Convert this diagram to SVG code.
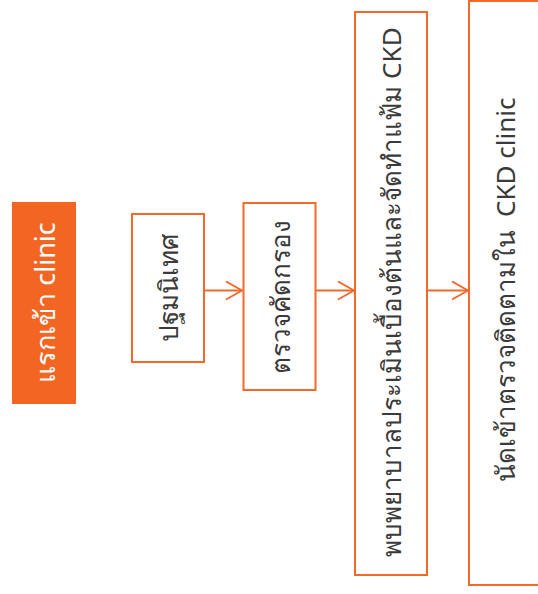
<svg xmlns="http://www.w3.org/2000/svg" width="538" height="594" viewBox="0 0 538 594">
  <style>
    .box { fill: #ffffff; stroke: #F26A2A; stroke-width: 2; }
    .start { fill: #F26522; stroke: none; }
    .lbl { font-family: "Noto Sans", "Tahoma", "DejaVu Sans", sans-serif; font-size: 26px; fill: #3a3a3a; text-anchor: middle; dominant-baseline: central; }
    .lbl-w { fill: #ffffff; font-size: 27px; }
    .conn { stroke: #F26A2A; stroke-width: 2; fill: none; }
  </style>
  <defs>
    <marker id="chev" viewBox="0 0 18 20" refX="17" refY="10" markerWidth="18" markerHeight="20" markerUnits="userSpaceOnUse" orient="auto">
      <path d="M1,1 L17,10 L1,19" fill="none" stroke="#F26A2A" stroke-width="2"/>
    </marker>
  </defs>

  <g id="node-start">
    <rect class="start" x="12" y="202" width="64" height="202"/>
    <text class="lbl lbl-w" transform="translate(44,302.5) rotate(-90)">แรกเข้า clinic</text>
  </g>

  <g id="node-orientation">
    <rect class="box" x="132" y="214" width="72" height="148"/>
    <text class="lbl" transform="translate(168,287.5) rotate(-90)">ปฐมนิเทศ</text>
  </g>

  <g id="node-screening">
    <rect class="box" x="243.5" y="203" width="72" height="187"/>
    <text class="lbl" transform="translate(279.5,296.5) rotate(-90)">ตรวจคัดกรอง</text>
  </g>

  <g id="node-assessment">
    <rect class="box" x="355" y="12" width="72" height="563"/>
    <text class="lbl" transform="translate(391,292) rotate(-90)">พบพยาบาลประเมินเบื้องต้นและจัดทำแฟ้ม CKD</text>
  </g>

  <g id="node-followup">
    <rect class="box" x="469" y="1" width="80" height="584"/>
    <text class="lbl" transform="translate(505,290) rotate(-90)" xml:space="preserve">นัดเข้าตรวจติดตามใน  CKD clinic</text>
  </g>

  <g id="connectors">
    <line class="conn" x1="204" y1="290.5" x2="242" y2="290.5" marker-end="url(#chev)"/>
    <line class="conn" x1="316" y1="290.5" x2="354" y2="290.5" marker-end="url(#chev)"/>
    <line class="conn" x1="428" y1="290.5" x2="468" y2="290.5" marker-end="url(#chev)"/>
  </g>
</svg>
